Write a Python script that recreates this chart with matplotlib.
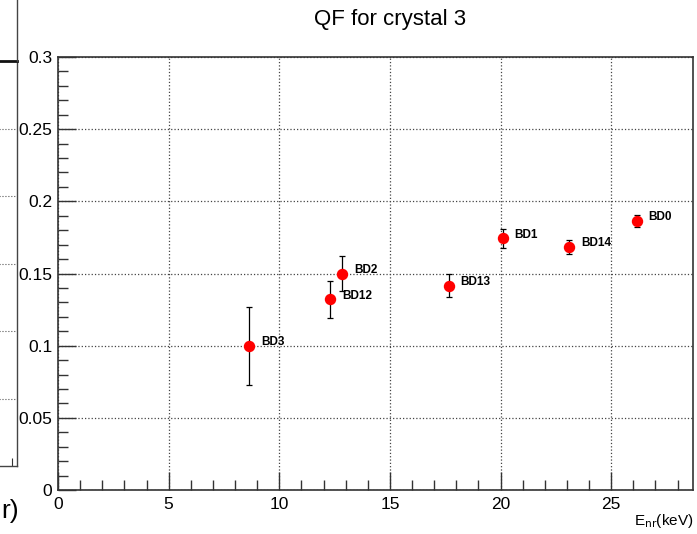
import numpy as np
import matplotlib
matplotlib.use("Agg")
import matplotlib.pyplot as plt
from matplotlib.ticker import MultipleLocator
from matplotlib.lines import Line2D

plt.rcParams["font.family"] = ["Liberation Sans", "DejaVu Sans"]

# Veri
labels = ["BD3", "BD12", "BD2", "BD13", "BD1", "BD14", "BD0"]
e_nr = [8.64, 12.3, 12.85, 17.65, 20.1, 23.1, 26.15]
qf = [0.100, 0.132, 0.150, 0.1415, 0.1745, 0.1685, 0.1865]
qf_err = [0.027, 0.013, 0.012, 0.008, 0.0065, 0.005, 0.004]

W, H = 697, 534
fig = plt.figure(figsize=(W / 100, H / 100), dpi=100)

# ==================== ANA PANEL ====================
ax = fig.add_axes([58 / W, 1 - 490 / H, (693 - 58) / W, (490 - 57) / H])
ax.errorbar(e_nr, qf, yerr=qf_err, fmt="o", color="red", markersize=7.2,
            ecolor="black", elinewidth=0.9, capsize=2.2, capthick=0.9, zorder=3)
for x, y, lab in zip(e_nr, qf, labels):
    ax.annotate(lab, (x, y), xytext=(8.6, 2.5), textcoords="offset points",
                fontsize=8.5, fontweight="bold", ha="left", va="center")

ax.set_xlim(0, 28.7)
ax.set_ylim(0, 0.3)
ax.xaxis.set_major_locator(MultipleLocator(5))
ax.xaxis.set_minor_locator(MultipleLocator(1))
ax.yaxis.set_minor_locator(MultipleLocator(0.01))
ax.set_yticks([0, 0.05, 0.1, 0.15, 0.2, 0.25, 0.3])
ax.set_yticklabels(["0", "0.05", "0.1", "0.15", "0.2", "0.25", "0.3"])
ax.tick_params(which="both", direction="in", labelsize=12.5, color="#333333")
ax.tick_params(which="major", length=13, width=1)
ax.tick_params(which="minor", length=7, width=1)
ax.tick_params(axis="y", pad=4)
ax.tick_params(axis="x", pad=5)
ax.grid(True, which="major", linestyle=":", color="#444444", linewidth=0.9)
for s in ax.spines.values():
    s.set_color("#333333")
    s.set_linewidth(1.2)

fig.text(390 / W, 1 - 20 / H, "QF for crystal 3", fontsize=16, ha="center", va="center")
fig.text(693 / W, 1 - 521 / H, r"E$_{\mathrm{nr}}$(keV)", fontsize=11,
         ha="right", va="center")

# ==================== SOL PANEL (kesik) ====================
axl = fig.add_axes([-0.2, 1 - 466 / H, 0.2 + 17 / W, (466 - 61) / H])
axl.set_xlim(0, 10)
axl.set_ylim(0, 6)
for yy in range(1, 6):
    axl.axhline(yy, linestyle=":", color="#555555", linewidth=0.8)
axl.set_xticks([9.7])
axl.set_xticklabels([])
axl.set_yticks([])
axl.tick_params(direction="in", length=6, color="#333333")
axl.spines["left"].set_visible(False)
for s in ["right", "bottom"]:
    axl.spines[s].set_color("#444444")
    axl.spines[s].set_linewidth(1)
axl.spines["top"].set_color("#111111")
axl.spines["top"].set_linewidth(2)
fig.add_artist(Line2D([17 / W, 17 / W], [1 - 61 / H, 1], transform=fig.transFigure,
                      color="#444444", linewidth=1))
fig.text(1 / W, 1 - 511 / H, "r)", fontsize=19, ha="left", va="center")

fig.savefig("out.png", dpi=100)
